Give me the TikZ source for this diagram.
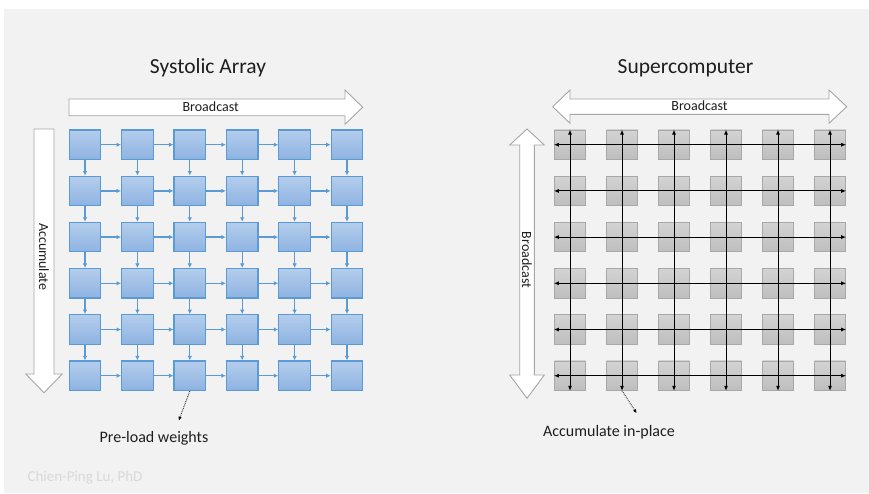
\documentclass[tikz,border=0pt]{standalone}
\usepackage{fontspec}
\setmainfont{Carlito}
\usetikzlibrary{arrows.meta}
\definecolor{bgc}{HTML}{F2F2F2}
\definecolor{blueedge}{HTML}{5B9BD5}
\definecolor{bluetop}{HTML}{B4CDEC}
\definecolor{bluebot}{HTML}{8EB3E2}
\definecolor{grayedge}{HTML}{A8A8A8}
\definecolor{graytop}{HTML}{D3D3D3}
\definecolor{graybot}{HTML}{BEBEBE}
\definecolor{fatedge}{HTML}{A6A6A6}
\definecolor{txt}{HTML}{1E1E1E}
\definecolor{sig}{HTML}{D9D9D9}
\begin{document}
\begin{tikzpicture}[x=1pt,y=-1pt,
  blk/.style={draw=blueedge, line width=1.2pt, top color=bluetop, bottom color=bluebot,
    minimum width=31.5pt, minimum height=29.5pt, inner sep=0pt},
  gry/.style={draw=grayedge, line width=0.8pt, top color=graytop, bottom color=graybot,
    minimum width=31.5pt, minimum height=29.5pt, inner sep=0pt},
  flow/.style={draw=blueedge, line width=1.3pt, -{Latex[length=4.5pt,width=4.5pt]}},
  bus/.style={draw=black, line width=0.9pt, {Latex[length=5pt,width=4pt]}-{Latex[length=5pt,width=4pt]}},
  hint/.style={draw=black, line width=0.8pt, densely dotted, -{Latex[length=4pt,width=3.5pt]}},
  fat/.style={draw=fatedge, line width=0.9pt, fill=white},
  title/.style={font=\fontsize{21.5}{24}\selectfont, text=txt, inner sep=0pt},
  arrlbl/.style={font=\fontsize{14}{16}\selectfont, text=txt, inner sep=0pt},
  note/.style={font=\fontsize{16}{18}\selectfont, text=txt, inner sep=0pt},
  sign/.style={font=\fontsize{15}{17}\selectfont, text=sig, inner sep=0pt}
]
\useasboundingbox (0,0) rectangle (869,493);
\fill[white] (0,0) rectangle (869,493);
\fill[bgc] (4,9) rectangle (869,493);

% titles
\node[title, anchor=base] (t1) at (208,73.5) {Systolic Array};
\node[title, anchor=base] (t2) at (685.5,73.5) {Supercomputer};

% block arrows, left
\draw[fat] (69,99) -- (345,99) -- (345,90) -- (362.7,107.2) -- (345,124.3) -- (345,115.7) -- (69,115.7) -- cycle;
\node[arrlbl, anchor=base] (b1) at (210.7,111.5) {Broadcast};
\draw[fat] (34,129) -- (54,129) -- (54,374) -- (62.3,374) -- (44,392.7) -- (25.7,374) -- (34,374) -- cycle;
\node[arrlbl, rotate=-90] (a1) at (44,256.7) {Accumulate};

% block arrows, right
\draw[fat] (552.7,106.7) -- (570,90) -- (570,99) -- (829,99) -- (829,90) -- (846.7,106.7) -- (829,123.3) -- (829,114.3) -- (570,114.3) -- (570,123.3) -- cycle;
\node[arrlbl, anchor=base] (b2) at (699.5,110.8) {Broadcast};
\draw[fat] (527,129) -- (544.3,145) -- (534.3,145) -- (534.3,375) -- (544.3,375) -- (527,398.3) -- (509.7,375) -- (519.7,375) -- (519.7,145) -- (509.7,145) -- cycle;
\node[arrlbl, rotate=-90] (b3) at (527,260) {Broadcast};

% systolic grid
\foreach \i in {1,...,6}
  \foreach \j in {1,...,6}
    \node[blk] (s-\j-\i) at ({85+52.4*(\i-1)},{144.7+46.2*(\j-1)}) {};
\foreach \j in {1,...,6}
  \foreach \i/\k in {1/2,2/3,3/4,4/5,5/6}
    \draw[flow] (s-\j-\i) -- (s-\j-\k);
\foreach \i in {1,...,6}
  \foreach \j/\k in {1/2,2/3,3/4,4/5,5/6}
    \draw[flow] (s-\j-\i) -- (s-\k-\i);

% supercomputer grid
\foreach \i in {1,...,6}
  \foreach \j in {1,...,6}
    \node[gry] (g-\j-\i) at ({570+52*(\i-1)},{144.7+46.2*(\j-1)}) {};
\foreach \i in {1,...,6}
  \draw[bus] (g-1-\i.north) -- (g-6-\i.south);
\foreach \j in {1,...,6}
  \draw[bus] (g-\j-1.west) -- (g-\j-6.east);

% notes
\coordinate (pl) at (178.7,420.7);
\draw[hint] (s-6-3.south) -- (pl);
\node[note, anchor=base] (n1) at (154,442.5) {Pre-load weights};
\coordinate (ai) at (636.7,413.3);
\draw[hint] (g-6-2.south) -- (ai);
\node[note, anchor=base] (n2) at (609,436) {Accumulate in-place};

\node[sign, anchor=base] (sg) at (85,481.5) {Chien-Ping Lu, PhD};
\end{tikzpicture}
\end{document}
